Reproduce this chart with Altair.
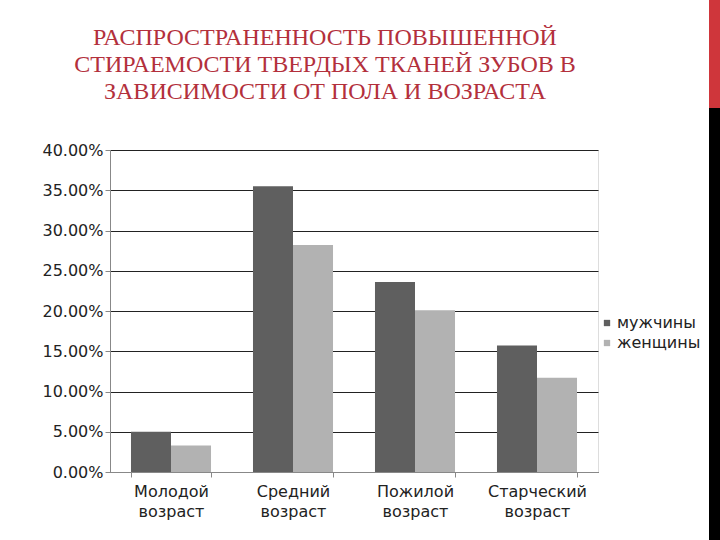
import altair as alt
import pandas as pd

categories = ["Молодой возраст", "Средний возраст", "Пожилой возраст", "Старческий возраст"]
series_names = ["мужчины", "женщины"]
men = [0.050, 0.355, 0.236, 0.157]
women = [0.033, 0.282, 0.201, 0.117]
title_lines = ["РАСПРОСТРАНЕННОСТЬ ПОВЫШЕННОЙ",
               "СТИРАЕМОСТИ ТВЕРДЫХ ТКАНЕЙ ЗУБОВ В",
               "ЗАВИСИМОСТИ ОТ ПОЛА И ВОЗРАСТА"]

rows = []
for c, m, w in zip(categories, men, women):
    rows.append({"cat": c, "sex": series_names[0], "val": m})
    rows.append({"cat": c, "sex": series_names[1], "val": w})
df = pd.DataFrame(rows)

AXFONT = "DejaVu Sans"
FS = 16

bars = alt.Chart(df).mark_bar().encode(
    x=alt.X("cat:N", sort=categories, title=None,
            scale=alt.Scale(paddingInner=0.344, paddingOuter=0.172),
            axis=alt.Axis(labelAngle=0, labelExpr="split(datum.label, ' ')",
                          labelFont=AXFONT, labelFontSize=FS, labelColor="#222222",
                          labelLineHeight=20, labelPadding=6,
                          domainColor="#888888", tickColor="#888888", tickSize=5,
                          tickBand="extent", grid=False)),
    xOffset=alt.XOffset("sex:N", sort=series_names, scale=alt.Scale(paddingInner=0)),
    y=alt.Y("val:Q", title=None,
            scale=alt.Scale(domain=[0, 0.40]),
            axis=alt.Axis(format=".2%", values=[0, 0.05, 0.10, 0.15, 0.20, 0.25, 0.30, 0.35, 0.40],
                          labelFont=AXFONT, labelFontSize=FS, labelColor="#222222",
                          labelPadding=2, tickSize=5, tickColor="#888888",
                          domainColor="#888888", gridColor="#222222", gridWidth=1)),
    color=alt.Color("sex:N", sort=series_names,
                    scale=alt.Scale(domain=series_names, range=["#5f5f5f", "#b2b2b2"]),
                    legend=alt.Legend(title=None, orient="none", legendX=489, legendY=165,
                                      symbolType="square", symbolSize=40,
                                      labelFont=AXFONT, labelFontSize=FS, labelColor="#222222",
                                      rowPadding=4, labelOffset=2,
                                      symbolStrokeWidth=0)),
)

one = pd.DataFrame({"k": [1]})
red_bar = alt.Chart(one).mark_rect(color="#cf363b").encode(
    x=alt.value(599), x2=alt.value(610), y=alt.value(-150), y2=alt.value(-42))
black_bar = alt.Chart(one).mark_rect(color="#000000").encode(
    x=alt.value(599), x2=alt.value(610), y=alt.value(-42), y2=alt.value(390))
title = alt.Chart(one).mark_text(font="Liberation Serif", fontSize=24, color="#b3303c",
                                 lineHeight=27, align="center", baseline="top").encode(
    x=alt.value(215), y=alt.value(-124), text=alt.value(title_lines))

chart = alt.layer(bars, red_bar, black_bar, title).properties(
    width=488, height=322,
    autosize=alt.AutoSizeParams(type="none"),
    padding={"left": 110, "top": 150, "right": 122, "bottom": 68},
).configure_view(stroke=None).configure(background="white")

chart.save("out.html", embed_options={"renderer": "svg", "actions": False})
